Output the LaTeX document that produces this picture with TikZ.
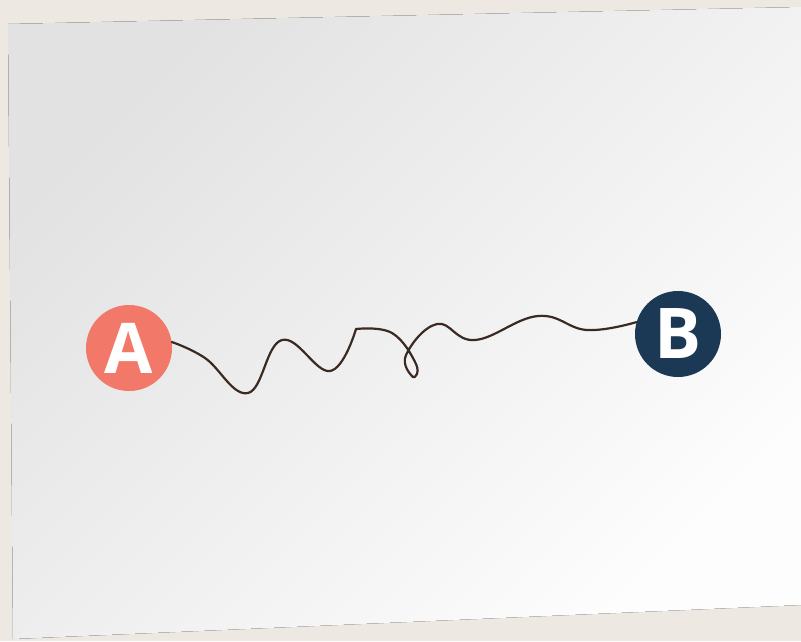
\documentclass[tikz,border=0pt]{standalone}
\usepackage{fontspec}
\setmainfont{Open Sans}
\definecolor{deskbg}{HTML}{EEE8E2}
\definecolor{paperdark}{HTML}{E2E2E2}
\definecolor{papermid}{HTML}{F5F5F5}
\definecolor{paperlight}{HTML}{FDFDFD}
\definecolor{salmon}{HTML}{F2796A}
\definecolor{navy}{HTML}{1B3954}
\definecolor{wire}{HTML}{3B2A22}
\tikzset{
  dot/.style={circle, minimum size=86pt, inner sep=0pt, text=white,
    font=\fontsize{70}{70}\selectfont\bfseries},
  wirepath/.style={wire, line width=2.2pt, line cap=round, line join=round}
}
\begin{document}
\begin{tikzpicture}[x=1pt,y=-1pt]
\useasboundingbox (0,0) rectangle (801,641);
\fill[deskbg] (0,0) rectangle (801,641);
\fill[top color=paperdark, middle color=papermid, bottom color=paperlight, shading angle=45]
  (8,24) -- (801,7) -- (801,605) -- (13,639) -- cycle;

\node[dot, fill=salmon] (A) at (129,348) {A};
\node[dot, fill=navy] (B) at (678,334) {B};

% wiggly wire from A to B
\draw[wirepath] plot[smooth, tension=0.7] coordinates {
  (A.8) (205,358) (248,393) (282,340) (330,371) (356,329)};
\draw[wirepath] plot[smooth, tension=0.7] coordinates {
  (356,329) (392,333) (416,364) (413,377) (406,355) (437,324)
  (475,340) (538,316) (587,330) (B.164)};
\end{tikzpicture}
\end{document}
